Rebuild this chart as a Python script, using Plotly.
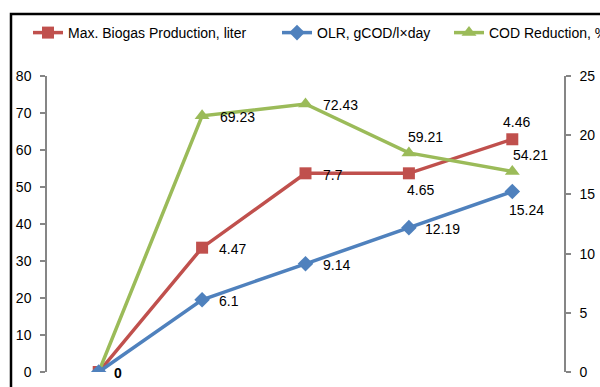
import plotly.graph_objects as go

# ---- data ----
categories = ["1", "2", "3", "4", "5"]
biogas_values = [0, 33.6, 53.7, 53.7, 62.9]          # plotted on left axis
biogas_labels = ["0", "4.47", "7.7", "4.65", "4.46"]
olr_values = [0, 6.1, 9.14, 12.19, 15.24]            # plotted on right axis
olr_labels = ["", "6.1", "9.14", "12.19", "15.24"]
cod_values = [0, 69.23, 72.43, 59.21, 54.21]         # plotted on left axis
cod_labels = ["", "69.23", "72.43", "59.21", "54.21"]

left_ticks = [0, 10, 20, 30, 40, 50, 60, 70, 80]
right_ticks = [0, 5, 10, 15, 20, 25]

RED = "#C0504D"
BLUE = "#4F81BD"
GREEN = "#9BBB59"
AXIS = "#868686"
FONT = "Liberation Sans"

# label offsets (styles): (xanchor, xshift, yshift)
biogas_pos = [("left", 13, -1), ("left", 15, -1), ("left", 15, -2), ("center", 12, -17), ("center", 4, 17)]
olr_pos = [None, ("left", 15, -1), ("left", 15, -1), ("left", 14, -1), ("center", 14, -18)]
cod_pos = [None, ("left", 16, -1), ("left", 15, -1), ("center", 17, 16), ("center", 18, 16)]

fig = go.Figure()
fig.add_trace(go.Scatter(
    x=categories, y=biogas_values, name="Max. Biogas Production, liter",
    mode="lines+markers", yaxis="y", legend="legend",
    line=dict(color=RED, width=3.5),
    marker=dict(symbol="square", size=12, color=RED)))
fig.add_trace(go.Scatter(
    x=categories, y=olr_values, name="OLR, gCOD/l×day",
    mode="lines+markers", yaxis="y2", legend="legend2",
    line=dict(color=BLUE, width=3.5),
    marker=dict(symbol="diamond", size=12, color=BLUE)))
fig.add_trace(go.Scatter(
    x=categories, y=cod_values, name="COD Reduction, %",
    mode="lines+markers", yaxis="y", legend="legend3",
    line=dict(color=GREEN, width=3.5),
    marker=dict(symbol="triangle-up", size=13, color=GREEN)))

annotations = []
def add_labels(vals, labels, pos, yref, bold_first=False):
    for i, (v, t, p) in enumerate(zip(vals, labels, pos)):
        if not t or p is None:
            continue
        txt = f"<b>{t}</b>" if (bold_first and i == 0) else t
        annotations.append(dict(
            x=i, y=v, xref="x", yref=yref, text=txt,
            showarrow=False, xanchor=p[0], yanchor="middle",
            xshift=p[1], yshift=p[2],
            font=dict(family=FONT, size=14, color="#000")))

add_labels(biogas_values, biogas_labels, biogas_pos, "y", bold_first=True)
add_labels(olr_values, olr_labels, olr_pos, "y2")
add_labels(cod_values, cod_labels, cod_pos, "y")

W, H = 600, 387
L, R, T, B = 47, 36, 76, 15
pw, ph = W - L - R, H - T - B

def px_x(px):
    return (px - L) / pw

def px_y(py):
    return (H - B - py) / ph

legend_common = dict(orientation="h", yanchor="middle", xanchor="left",
                     y=px_y(33), bgcolor="rgba(0,0,0,0)", borderwidth=0,
                     font=dict(family=FONT, size=14, color="#000"))

fig.update_layout(
    width=W, height=H,
    margin=dict(l=L, r=R, t=T, b=B, autoexpand=False),
    paper_bgcolor="white", plot_bgcolor="white",
    font=dict(family=FONT, size=14, color="#000"),
    showlegend=True,
    legend=dict(x=px_x(28), **legend_common),
    legend2=dict(x=px_x(277), **legend_common),
    legend3=dict(x=px_x(449), **legend_common),
    xaxis=dict(type="category", range=[-0.5, 4.5], visible=False,
               showgrid=False, zeroline=False),
    yaxis=dict(range=[0, 80], tickvals=left_ticks, showgrid=False, zeroline=False,
               showline=True, linecolor=AXIS, linewidth=1.5,
               ticks="outside", ticklen=5, tickcolor=AXIS, tickwidth=1.5,
               ticklabelstandoff=6,
               tickfont=dict(family=FONT, size=14, color="#000")),
    yaxis2=dict(range=[0, 25], tickvals=right_ticks, overlaying="y", side="right",
                showgrid=False, zeroline=False,
                showline=True, linecolor=AXIS, linewidth=1.5,
                ticks="outside", ticklen=5, tickcolor=AXIS, tickwidth=1.5,
                ticklabelstandoff=6,
                tickfont=dict(family=FONT, size=14, color="#000")),
    annotations=annotations,
    shapes=[dict(type="rect", xref="paper", yref="paper",
                 x0=px_x(11), x1=px_x(640), y0=px_y(420), y1=px_y(14),
                 line=dict(color="black", width=2.5), layer="below")],
)

fig.write_html("out.html")
